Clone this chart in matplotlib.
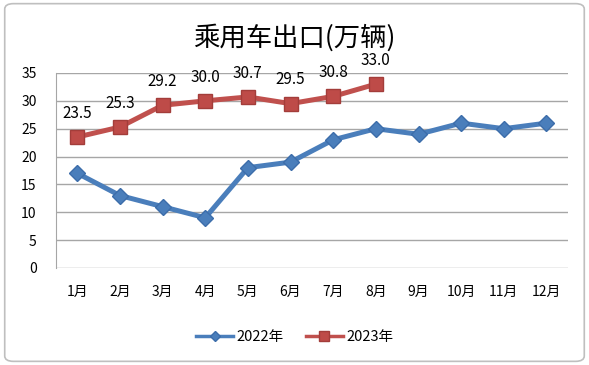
import matplotlib
matplotlib.use("Agg")
import matplotlib.pyplot as plt
from matplotlib.patches import FancyBboxPatch

plt.rcParams['font.family'] = ['Noto Sans CJK SC', 'DejaVu Sans']

# Data
months = ["1月", "2月", "3月", "4月", "5月", "6月", "7月", "8月", "9月", "10月", "11月", "12月"]
exports_2022 = [17, 13, 11, 9, 18, 19, 23, 25, 24, 26, 25, 26]
exports_2023 = [23.5, 25.3, 29.2, 30.0, 30.7, 29.5, 30.8, 33.0]

fig = plt.figure(figsize=(5.89, 3.65), dpi=100)
ax = fig.add_axes([0.095, 0.266, 0.869, 0.534])

# rounded outer border
fig.patches.append(FancyBboxPatch((0.008, 0.01), 0.984, 0.98,
                                  boxstyle="round,pad=0,rounding_size=0.015",
                                  transform=fig.transFigure, fill=False,
                                  edgecolor="#BFBFBF", linewidth=1.2))

x = list(range(len(months)))
ax.plot(x, exports_2022, color="#4A7EBB", linewidth=3.6, marker="D",
        markersize=8, markerfacecolor="#4A7EBB", markeredgecolor="#3C6DAA",
        label="2022年", zorder=3)
ax.plot(x[:len(exports_2023)], exports_2023, color="#C0504D", linewidth=3.6,
        marker="s", markersize=9.5, markerfacecolor="#BE4B48",
        markeredgecolor="#A33D3A", label="2023年", zorder=4)

for i, v in enumerate(exports_2023):
    ax.annotate(f"{v:.1f}", (i, v), xytext=(0, 11), textcoords="offset points",
                ha="center", va="bottom", fontsize=11, color="black")

ax.set_ylim(0, 35)
ax.set_yticks(range(0, 36, 5))
ax.set_xlim(-0.5, 11.5)
ax.set_xticks(x)
ax.set_xticklabels(months)
ax.tick_params(axis="both", length=0, labelsize=10)
ax.tick_params(axis="x", pad=12)
ax.tick_params(axis="y", pad=14)
ax.grid(axis="y", color="#A6A6A6", linewidth=1)
ax.set_axisbelow(True)
for s in ["top", "right", "bottom"]:
    ax.spines[s].set_visible(False)
ax.spines["left"].set_color("#A6A6A6")

fig.text(0.5, 0.895, "乘用车出口(万辆)", ha="center", va="center", fontsize=19)

leg = fig.legend(loc="center", bbox_to_anchor=(0.5, 0.077), ncol=2, frameon=False,
                 fontsize=10.5, handlelength=2.6, columnspacing=1.5,
                 handletextpad=0.2, markerscale=0.7)
for line in leg.get_lines():
    line.set_linewidth(2.5)

fig.savefig("out.png", dpi=100)
